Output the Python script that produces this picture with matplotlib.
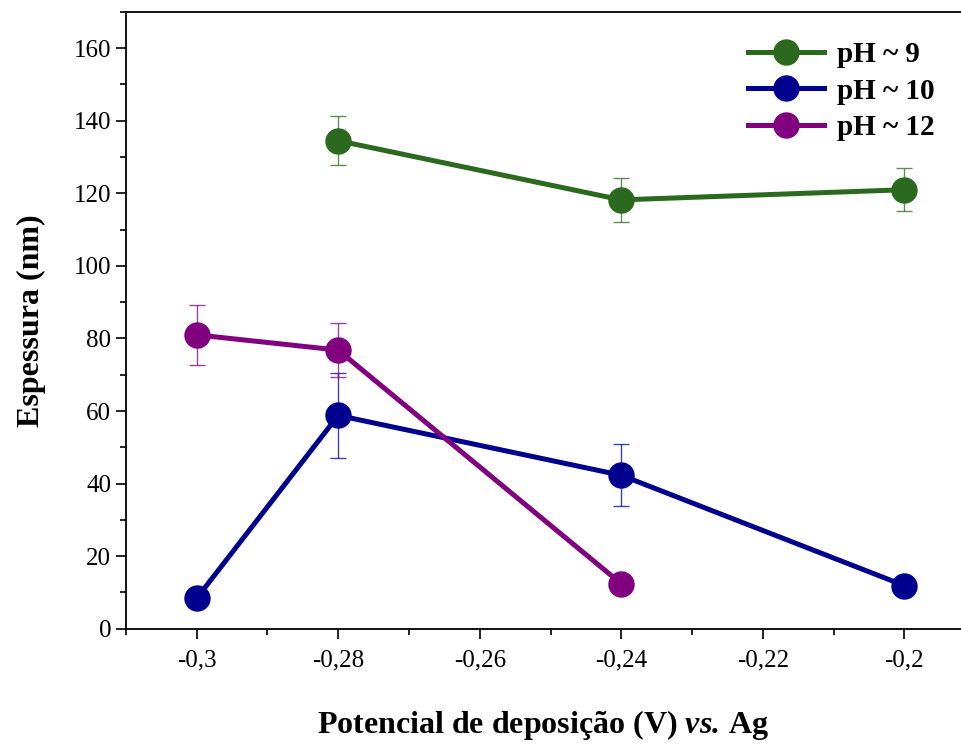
import numpy as np
import matplotlib.pyplot as plt
from matplotlib.ticker import MultipleLocator

plt.rcParams['font.family'] = ['Liberation Serif', 'DejaVu Serif']
plt.rcParams['mathtext.fontset'] = 'custom'
plt.rcParams['mathtext.rm'] = 'Liberation Serif'
plt.rcParams['mathtext.it'] = 'Liberation Serif:italic'
plt.rcParams['mathtext.bf'] = 'Liberation Serif:bold'
plt.rcParams['mathtext.bfit'] = 'Liberation Serif:italic:bold'

# data
x9 = [-0.28, -0.24, -0.20]
y9 = [134.5, 118.2, 121.0]
e9 = [6.7, 6.0, 6.0]

x10 = [-0.30, -0.28, -0.24, -0.20]
y10 = [8.4, 58.8, 42.3, 11.9]
e10 = [0.0, 11.7, 8.5, 0.0]

x12 = [-0.30, -0.28, -0.24]
y12 = [81.0, 76.8, 12.4]
e12 = [8.2, 7.5, 0.0]

labels = ['pH ~ 9', 'pH ~ 10', 'pH ~ 12']
colors = ['#2b6a1e', '#00008f', '#800080']

xticks = [-0.30, -0.28, -0.26, -0.24, -0.22, -0.20]
xticklabels = ['-0,3', '-0,28', '-0,26', '-0,24', '-0,22', '-0,2']

fig = plt.figure(figsize=(9.61, 7.45), dpi=100)
ax = fig.add_axes([0.131, 0.156, 0.869, 0.828])

series = [(x9, y9, e9), (x10, y10, e10), (x12, y12, e12)]
for (x, y, e), lab, c in zip(series, labels, colors):
    x = np.array(x)
    y = np.array(y)
    e = np.array(e)
    m = e > 0
    ax.errorbar(x[m], y[m], yerr=e[m], fmt='none', ecolor=c, alpha=0.75,
                elinewidth=1.0, capsize=6, capthick=1.0, zorder=2)
    ax.plot(x, y, '-o', color=c, lw=3.6, markersize=18, label=lab, zorder=3)

ax.set_xlim(-0.31, -0.192)
ax.set_ylim(0, 170)
ax.set_xticks(xticks)
ax.set_xticklabels(xticklabels)
ax.xaxis.set_minor_locator(MultipleLocator(0.01))
ax.yaxis.set_major_locator(MultipleLocator(20))
ax.yaxis.set_minor_locator(MultipleLocator(10))
ax.tick_params(which='major', direction='out', length=7, width=1.2, labelsize=18)
ax.tick_params(which='minor', direction='out', length=4, width=1.2)
ax.tick_params(axis='x', pad=8)

ax.spines['right'].set_visible(False)
for s in ['left', 'top', 'bottom']:
    ax.spines[s].set_linewidth(1.3)

ax.set_ylabel('Espessura (nm)', fontsize=23, fontweight='bold', labelpad=20)
ax.set_xlabel(r'Potencial de deposição (V) $\mathbfit{vs.}\,$Ag', fontsize=23,
              fontweight='bold', labelpad=26)

leg = ax.legend(loc='upper right', bbox_to_anchor=(1.0, 0.995), frameon=False,
                prop={'size': 21, 'weight': 'bold'}, handlelength=2.6,
                labelspacing=0.32, handletextpad=0.45)

fig.savefig('out.png', dpi=100)
